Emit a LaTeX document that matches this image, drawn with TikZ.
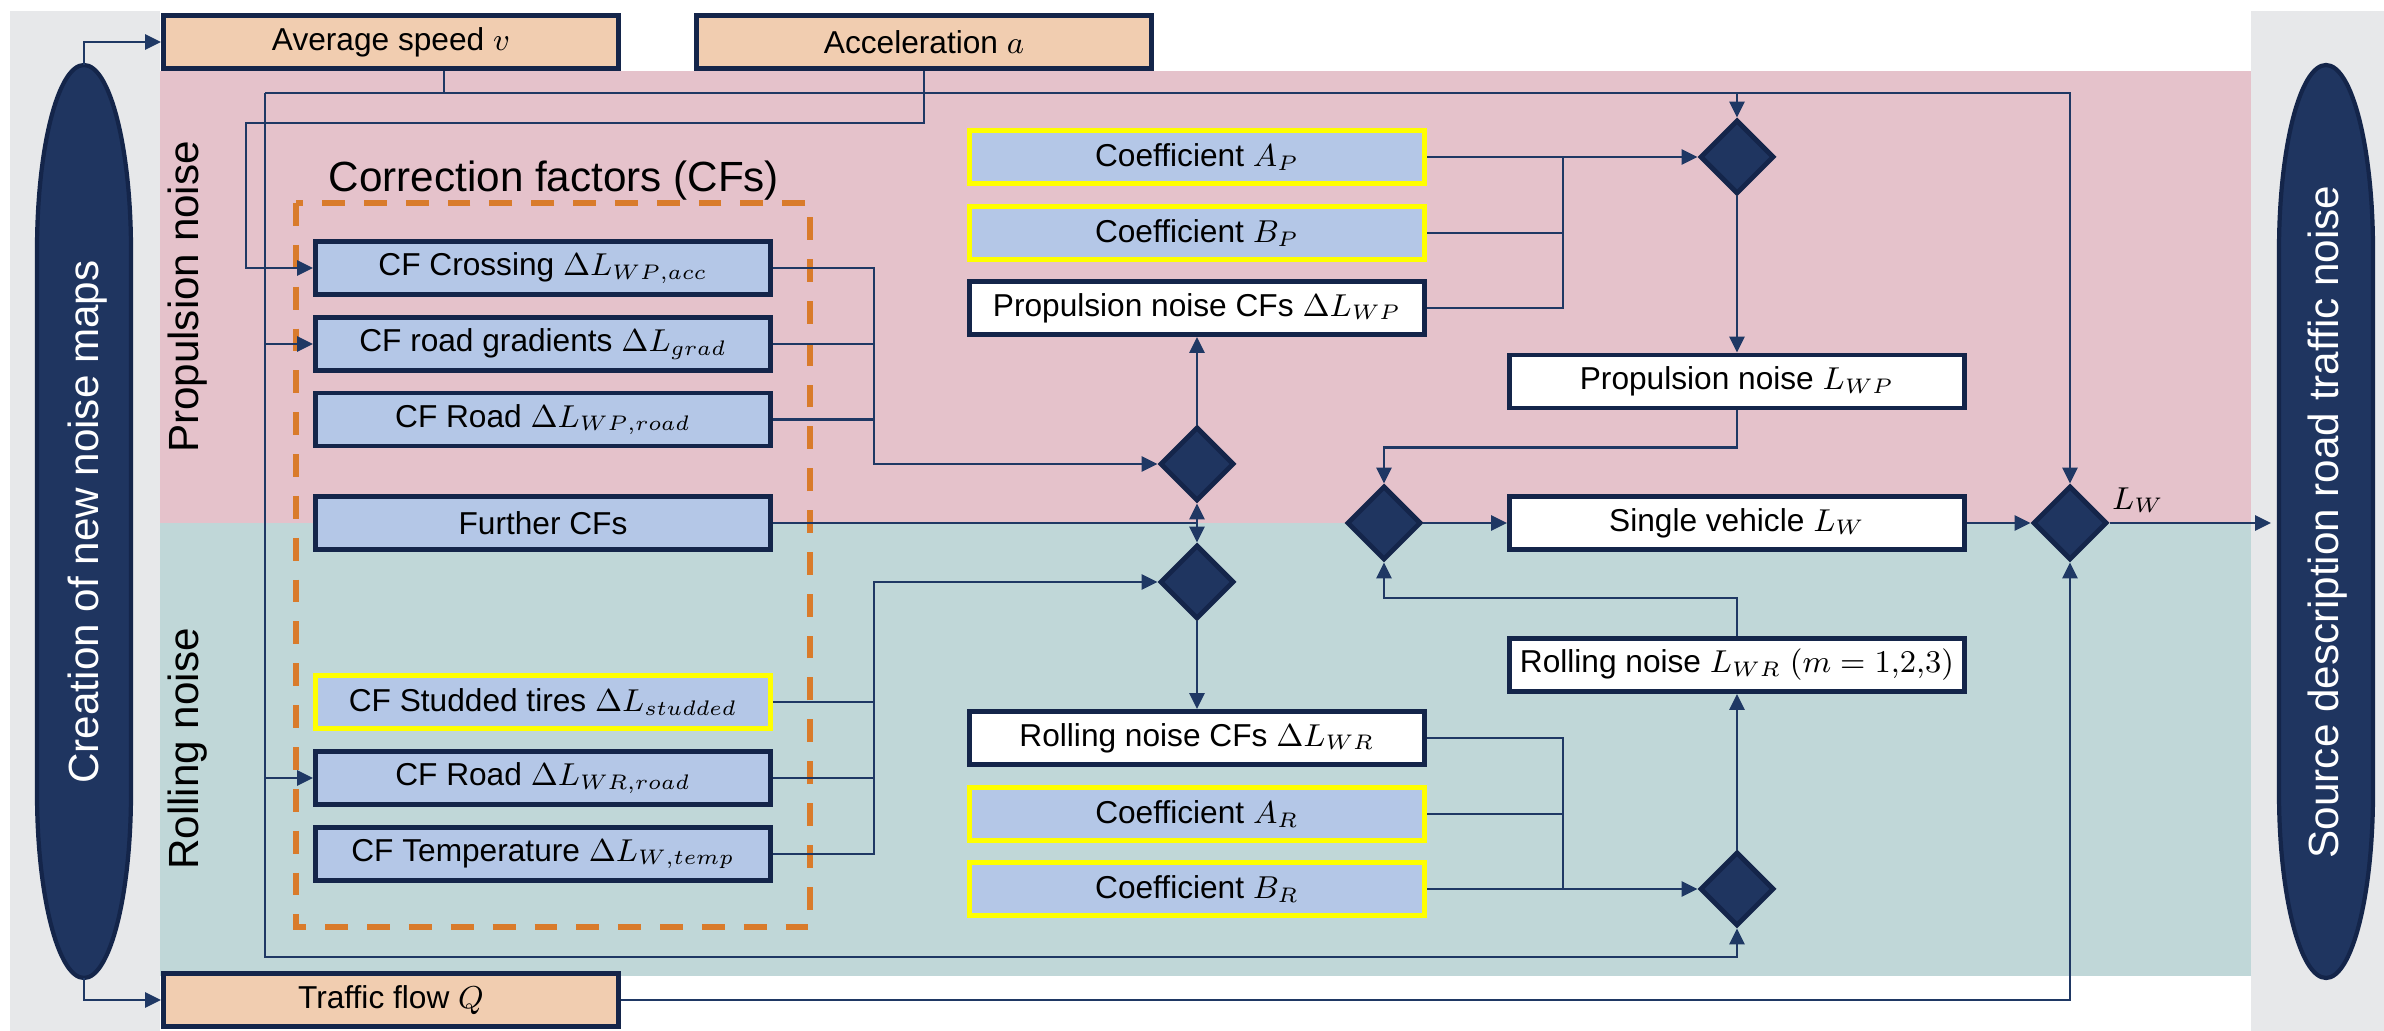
\documentclass[tikz,border=0pt]{standalone}
\usepackage{fontspec}
\setmainfont{Liberation Sans}
\usetikzlibrary{shapes.geometric,arrows.meta}
\definecolor{pinkbg}{HTML}{E5C2CB}
\definecolor{tealbg}{HTML}{C0D7D8}
\definecolor{greybg}{HTML}{E7E8EA}
\definecolor{navy}{HTML}{1F3560}
\definecolor{navyd}{HTML}{14254A}
\definecolor{lnc}{HTML}{1F3864}
\definecolor{peach}{HTML}{F1CDB0}
\definecolor{cfblue}{HTML}{B4C7E7}
\definecolor{cfyellow}{HTML}{FFFF00}
\definecolor{cforange}{HTML}{D97B2B}
\begin{document}
\begin{tikzpicture}[x=0.01cm,y=-0.01cm,
  every node/.style={inner sep=0pt},
  box/.style={draw=navyd,line width=1.4pt,minimum width=4.55cm,minimum height=0.53cm,font=\fontsize{9}{11}\selectfont,text=black},
  inbox/.style={box,fill=peach},
  cfbox/.style={box,fill=cfblue},
  ybox/.style={box,fill=cfblue,draw=cfyellow},
  wbox/.style={box,fill=white},
  dia/.style={diamond,aspect=1,draw=navyd,fill=navy,line width=1.4pt,minimum width=0.74cm,minimum height=0.74cm},
  term/.style={draw=navyd,fill=navy,line width=1.2pt},
  sidelab/.style={font=\fontsize{12}{14}\selectfont,rotate=90},
  conn/.style={draw=lnc,line width=0.6pt},
  arr/.style={conn,-{Triangle[length=4.5pt,width=4.3pt]}}]
\useasboundingbox (0,0) rectangle (2384,1031);
% backgrounds
\fill[greybg] (10,11) rectangle (160,1031);
\fill[greybg] (2251,11) rectangle (2384,1031);
\fill[pinkbg] (160,71) rectangle (2251,523);
\fill[tealbg] (160,523) rectangle (2251,976);
\draw[cforange,line width=1.5pt,dash pattern=on 6.5pt off 5.4pt] (296,203) rectangle (810,927);
% terminals (elongated ovals)
\draw[term] (84,65) .. controls (110,65) and (131,148) .. (131,250) -- (131,793)
  .. controls (131,895) and (110,978) .. (84,978) .. controls (58,978) and (37,895) .. (37,793)
  -- (37,250) .. controls (37,148) and (58,65) .. (84,65) -- cycle;
\draw[term] (2326,65) .. controls (2352,65) and (2373,148) .. (2373,250) -- (2373,793)
  .. controls (2373,895) and (2352,978) .. (2326,978) .. controls (2300,978) and (2279,895) .. (2279,793)
  -- (2279,250) .. controls (2279,148) and (2300,65) .. (2326,65) -- cycle;
\coordinate (lelln) at (84,65);
\coordinate (lells) at (84,978);
\coordinate (rellw) at (2279,523);
\node[sidelab,text=white] (ltxt) at (88,522) {Creation of new noise maps};
\node[sidelab,text=white] (rtxt) at (2328,522) {Source description road traffic noise};
\node[sidelab] (ptxt) at (188,297) {Propulsion noise};
\node[sidelab] (rolltxt) at (188,749) {Rolling noise};
\node[font=\fontsize{12}{14}\selectfont] (cftitle) at (554,181) {Correction factors (CFs)};
% inputs
\node[inbox] (spd) at (391,42) {Average speed $v$};
\node[inbox] (acc) at (924,42) {Acceleration $a$};
\node[inbox] (flow) at (391,1000) {Traffic flow $Q$};
% correction factors
\node[cfbox] (cross) at (543,268) {CF Crossing $\Delta L_{WP{,}acc}$};
\node[cfbox] (grad) at (543,344) {CF road gradients $\Delta L_{grad}$};
\node[cfbox] (roadp) at (543,419.5) {CF Road $\Delta L_{WP{,}road}$};
\node[cfbox] (further) at (543,523) {Further CFs};
\node[ybox] (stud) at (543,702) {CF Studded tires $\Delta L_{studded}$};
\node[cfbox] (roadr) at (543,778) {CF Road $\Delta L_{WR{,}road}$};
\node[cfbox] (temp) at (543,854) {CF Temperature $\Delta L_{W{,}temp}$};
% middle column
\node[ybox] (ap) at (1197,157) {Coefficient $A_P$};
\node[ybox] (bp) at (1197,233) {Coefficient $B_P$};
\node[wbox] (dwp) at (1197,308) {Propulsion noise CFs $\Delta L_{WP}$};
\node[wbox] (dwr) at (1197,738) {Rolling noise CFs $\Delta L_{WR}$};
\node[ybox] (ar) at (1197,814) {Coefficient $A_R$};
\node[ybox] (br) at (1197,889) {Coefficient $B_R$};
% right column
\node[wbox] (lwp) at (1737,381.5) {Propulsion noise $L_{WP}$};
\node[wbox] (single) at (1737,523) {Single vehicle $L_W$};
\node[wbox] (lwr) at (1737,665) {Rolling noise $L_{WR}$ $(m=1{,}2{,}3)$};
% diamonds
\node[dia] (d1) at (1197,464) {};
\node[dia] (d2) at (1197,582) {};
\node[dia] (dp) at (1737,157) {};
\node[dia] (dr) at (1737,889) {};
\node[dia] (ds) at (1384,523) {};
\node[dia] (df) at (2070,523) {};
\node[font=\fontsize{9}{11}\selectfont] (lw) at (2138,500) {$L_W$};
% connectors: terminal to inputs
\draw[arr] (lelln) |- (spd.west);
\draw[arr] (lells) |- (flow.west);
% speed
\draw[conn] (spd.south -| 444,0) -- (444,93);
\draw[arr] (265,93) -- (2070,93) -- (df.north);
\draw[arr] (1737,93) -- (dp.north);
\draw[arr] (265,93) -- (265,957) -| (dr.south);
\draw[arr] (grad.west -| 265,0) -- (grad.west);
\draw[arr] (roadr.west -| 265,0) -- (roadr.west);
% acceleration
\draw[arr] (acc.south) |- (246,123) |- (cross.west);
% CF collectors
\draw[arr] (cross.east) -| (874,464) -- (d1.west);
\draw[conn] (grad.east) -- (grad.east -| 874,0);
\draw[conn] (roadp.east) -- (roadp.east -| 874,0);
\draw[arr] (temp.east) -| (874,582) -- (d2.west);
\draw[conn] (stud.east) -- (stud.east -| 874,0);
\draw[conn] (roadr.east) -- (roadr.east -| 874,0);
\draw[conn] (further.east) -- (further.east -| d1.south);
\draw[arr] (further.east -| d1.south) -- (d1.south);
\draw[arr] (further.east -| d2.north) -- (d2.north);
\draw[arr] (d1.north) -- (dwp.south);
\draw[arr] (d2.south) -- (dwr.north);
% coefficients
\draw[arr] (ap.east) -- (dp.west);
\draw[conn] (bp.east) -- (bp.east -| 1563,0);
\draw[conn] (dwp.east) -| (1563,157);
\draw[arr] (br.east) -- (dr.west);
\draw[conn] (ar.east) -- (ar.east -| 1563,0);
\draw[conn] (dwr.east) -| (1563,889);
% right part
\draw[arr] (dp.south) -- (lwp.north);
\draw[arr] (dr.north) -- (lwr.south);
\draw[arr] (lwp.south) -- ++(0,37) -| (ds.north);
\draw[arr] (lwr.north) -- ++(0,-38) -| (ds.south);
\draw[arr] (ds.east) -- (single.west);
\draw[arr] (single.east) -- (df.west);
\draw[arr] (flow.east) -| (df.south);
\draw[arr,shorten >=0.08cm] (df.east) -- (df.east -| rellw);
\end{tikzpicture}
\end{document}
